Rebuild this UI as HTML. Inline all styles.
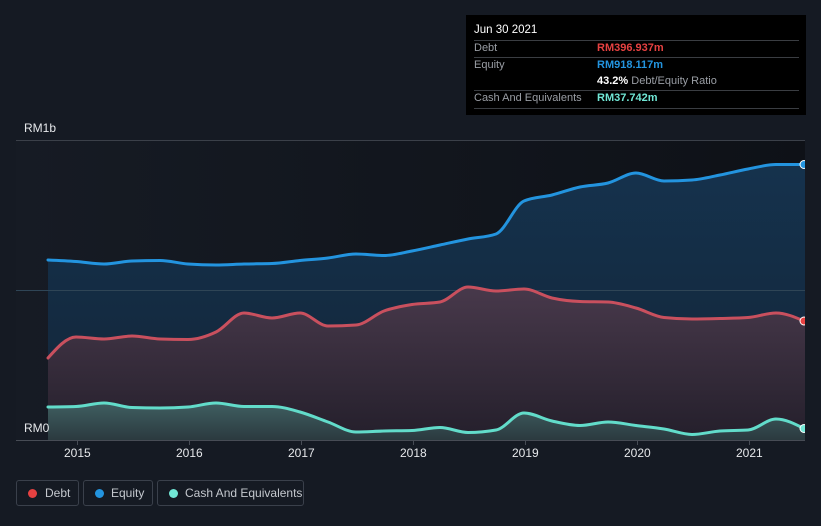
<!DOCTYPE html>
<html><head><meta charset="utf-8">
<style>
html,body{margin:0;padding:0;background:#151a23;}
body{width:821px;height:526px;overflow:hidden;position:relative;font-family:"Liberation Sans",sans-serif;}
svg{position:absolute;left:0;top:0;}
.tt{position:absolute;left:466px;top:15px;width:340px;height:100px;background:#000;}
.tt div{position:absolute;font-size:11px;white-space:nowrap;}
.ln{position:absolute;left:8px;width:325px;height:1px;background:#3a3d42;}
.lg{position:absolute;top:480px;height:26px;border:1px solid #3a404b;border-radius:3px;box-sizing:border-box;font-size:12px;color:#c4c8ce;}
.lg span.d{position:absolute;top:8px;width:9px;height:9px;border-radius:50%;}
.lg span.t{position:absolute;top:5px;}
.ax{position:absolute;font-size:12px;color:#e6e8eb;}
</style></head><body>
<svg width="821" height="526" viewBox="0 0 821 526">
<defs>
<linearGradient id="bg" x1="0" y1="0" x2="1" y2="0">
<stop offset="0" stop-color="#161b24"/><stop offset="1" stop-color="#0e1117"/>
</linearGradient>
<linearGradient id="eq" x1="0" y1="0" x2="0" y2="1">
<stop offset="0" stop-color="#15324d"/><stop offset="1" stop-color="#132538"/>
</linearGradient>
<linearGradient id="db" x1="0" y1="0" x2="0" y2="1">
<stop offset="0" stop-color="#48394b"/><stop offset="1" stop-color="#241f2b"/>
</linearGradient>
<linearGradient id="cs" x1="0" y1="0" x2="0" y2="1">
<stop offset="0" stop-color="#3f5e61"/><stop offset="1" stop-color="#2b3a3f"/>
</linearGradient>
<clipPath id="cp"><rect x="16" y="100" width="789" height="340"/></clipPath>
</defs>
<rect x="16" y="140" width="789" height="300" fill="url(#bg)"/>
<line x1="16" y1="140.5" x2="805" y2="140.5" stroke="#3b4049" stroke-width="1"/>
<g clip-path="url(#cp)">
<path id="fe" fill="url(#eq)" d="M48,440 L48,260 L76,261.5 L104,264 L132,261 L160,260.5 L188,264 L216,265 L244,264 L272,263.5 L300,260.5 L328,258 L356,254 L384,255.5 L412,251 L440,245 L468,239 L496,234 L524,201 L552,195 L580,187 L608,183 L636,173 L664,181 L692,180 L720,175 L748,169 L776,164.5 L804,164.5 L805,164.5 L805,440 Z"/>
<line x1="16" y1="290.5" x2="805" y2="290.5" stroke="#2f4556" stroke-width="1"/>
<path id="fd" fill="url(#db)" d="M48,440 L48,358 L76,337 L104,339 L132,336 L160,339 L188,339.5 L216,332 L244,313 L272,318 L300,313 L328,326 L356,325 L384,311 L412,304.5 L440,302 L468,287 L496,291 L524,289 L552,298 L580,301.5 L608,302 L636,308 L664,317.5 L692,319 L720,318.5 L748,317.5 L776,313 L804,321 L805,321 L805,440 Z"/>
<path id="fc" fill="url(#cs)" d="M48,440 L48,407 L76,406.5 L104,403 L132,407.5 L160,408 L188,407 L216,403 L244,406.5 L272,406.5 L300,412 L328,422 L356,432 L384,431 L412,430.5 L440,427.5 L468,432.5 L496,430 L524,413 L552,421 L580,425.5 L608,422 L636,425.5 L664,429 L692,434.5 L720,431 L748,430 L776,419 L804,428.5 L805,428.5 L805,440 Z"/>
<path id="le" fill="none" stroke="#2394df" stroke-width="3" stroke-linejoin="round" stroke-linecap="round" d="M48,260 L76,261.5 L104,264 L132,261 L160,260.5 L188,264 L216,265 L244,264 L272,263.5 L300,260.5 L328,258 L356,254 L384,255.5 L412,251 L440,245 L468,239 L496,234 L524,201 L552,195 L580,187 L608,183 L636,173 L664,181 L692,180 L720,175 L748,169 L776,164.5 L804,164.5"/>
<path id="ld" fill="none" stroke="#c9505e" stroke-width="3" stroke-linejoin="round" stroke-linecap="round" d="M48,358 L76,337 L104,339 L132,336 L160,339 L188,339.5 L216,332 L244,313 L272,318 L300,313 L328,326 L356,325 L384,311 L412,304.5 L440,302 L468,287 L496,291 L524,289 L552,298 L580,301.5 L608,302 L636,308 L664,317.5 L692,319 L720,318.5 L748,317.5 L776,313 L804,321"/>
<path id="lc" fill="none" stroke="#62dcca" stroke-width="3" stroke-linejoin="round" stroke-linecap="round" d="M48,407 L76,406.5 L104,403 L132,407.5 L160,408 L188,407 L216,403 L244,406.5 L272,406.5 L300,412 L328,422 L356,432 L384,431 L412,430.5 L440,427.5 L468,432.5 L496,430 L524,413 L552,421 L580,425.5 L608,422 L636,425.5 L664,429 L692,434.5 L720,431 L748,430 L776,419 L804,428.5"/>
</g>
<rect x="805" y="100" width="16" height="345" fill="#151a23"/>
<circle cx="804" cy="164.5" r="4" fill="#2394df" stroke="#fff" stroke-width="1"/>
<circle cx="804" cy="321" r="4" fill="#e64141" stroke="#fff" stroke-width="1"/>
<circle cx="804" cy="428.5" r="4" fill="#71e7d6" stroke="#fff" stroke-width="1"/>
<rect x="805" y="150" width="16" height="290" fill="#151a23"/>
<line x1="16" y1="440.5" x2="805" y2="440.5" stroke="#474c55" stroke-width="1"/>
<g stroke="#474c55" stroke-width="1">
<line x1="77.5" y1="440" x2="77.5" y2="445"/>
<line x1="189.5" y1="440" x2="189.5" y2="445"/>
<line x1="301.5" y1="440" x2="301.5" y2="445"/>
<line x1="413.5" y1="440" x2="413.5" y2="445"/>
<line x1="525.5" y1="440" x2="525.5" y2="445"/>
<line x1="637.5" y1="440" x2="637.5" y2="445"/>
<line x1="749.5" y1="440" x2="749.5" y2="445"/>
</g>
</svg>
<div class="ax" style="left:24px;top:121px;">RM1b</div>
<div class="ax" style="left:24px;top:421px;">RM0</div>
<div class="ax" style="left:64px;top:446px;">2015</div>
<div class="ax" style="left:176px;top:446px;">2016</div>
<div class="ax" style="left:288px;top:446px;">2017</div>
<div class="ax" style="left:400px;top:446px;">2018</div>
<div class="ax" style="left:512px;top:446px;">2019</div>
<div class="ax" style="left:624px;top:446px;">2020</div>
<div class="ax" style="left:736px;top:446px;">2021</div>

<div class="tt">
<div style="left:8px;top:9px;color:#fff;font-size:11.5px;">Jun 30 2021</div>
<div class="ln" style="top:25px;"></div>
<div style="left:8px;top:27px;color:#9a9ea5;">Debt</div>
<div style="left:131px;top:27px;color:#e64141;font-weight:bold;">RM396.937m</div>
<div class="ln" style="top:42px;"></div>
<div style="left:8px;top:44px;color:#9a9ea5;">Equity</div>
<div style="left:131px;top:44px;color:#2394df;font-weight:bold;">RM918.117m</div>
<div style="left:131px;top:60px;color:#9a9ea5;"><b style="color:#fff;">43.2%</b> Debt/Equity Ratio</div>
<div class="ln" style="top:75px;"></div>
<div style="left:8px;top:77px;color:#9a9ea5;">Cash And Equivalents</div>
<div style="left:131px;top:77px;color:#71e7d6;font-weight:bold;">RM37.742m</div>
<div class="ln" style="top:93px;"></div>
</div>

<div class="lg" style="left:16px;width:63px;"><span class="d" style="left:11px;background:#e64141;"></span><span class="t" style="left:28px;">Debt</span></div>
<div class="lg" style="left:83px;width:70px;"><span class="d" style="left:11px;background:#2394df;"></span><span class="t" style="left:27px;">Equity</span></div>
<div class="lg" style="left:157px;width:147px;"><span class="d" style="left:11px;background:#71e7d6;"></span><span class="t" style="left:27px;">Cash And Equivalents</span></div>
<script>
(function(){
var E=[260,261.5,264,261,260.5,264,265,264,263.5,260.5,258,254,255.5,251,245,239,234,201,195,187,183,173,181,180,175,169,164.5,164.5];
var D=[358,337,339,336,339,339.5,332,313,318,313,326,325,311,304.5,302,287,291,289,298,301.5,302,308,317.5,319,318.5,317.5,313,321];
var C=[407,406.5,403,407.5,408,407,403,406.5,406.5,412,422,432,431,430.5,427.5,432.5,430,413,421,425.5,422,425.5,429,434.5,431,430,419,428.5];
function sgn(v){return v<0?-1:1;}
function curve(Y){
 var n=Y.length,h=28,t=[],i;
 var s=[];for(i=0;i<n-1;i++)s.push((Y[i+1]-Y[i])/h);
 for(i=1;i<n-1;i++){var s0=s[i-1],s1=s[i],p=(s0+s1)/2;
  t[i]=(sgn(s0)+sgn(s1))*Math.min(Math.abs(s0),Math.abs(s1),0.5*Math.abs(p))||0;}
 t[0]=(3*s[0]-t[1])/2; t[n-1]=(3*s[n-2]-t[n-2])/2;
 var d="",dx=h/3;
 for(i=0;i<n-1;i++){var x0=48+i*h,x1=x0+h;
  d+=" C"+(x0+dx)+","+(Y[i]+dx*t[i])+" "+(x1-dx)+","+(Y[i+1]-dx*t[i+1])+" "+x1+","+Y[i+1];}
 return d;}
function set(line,fill,Y){
 var c=curve(Y);
 document.getElementById(line).setAttribute("d","M48,"+Y[0]+c);
 document.getElementById(fill).setAttribute("d","M48,440 L48,"+Y[0]+c+" L805,"+Y[Y.length-1]+" L805,440 Z");}
try{set("le","fe",E);set("ld","fd",D);set("lc","fc",C);}catch(e){}
})();
</script>
</body></html>
